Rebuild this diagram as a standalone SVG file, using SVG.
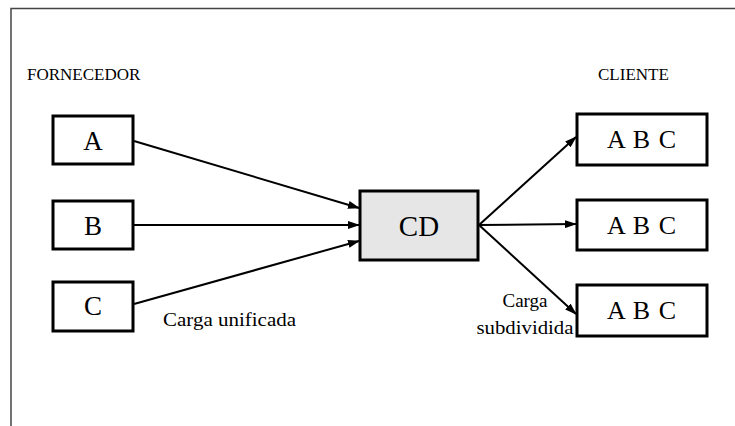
<svg xmlns="http://www.w3.org/2000/svg" width="735" height="426" viewBox="0 0 735 426">
  <defs>
    <marker id="arrow" markerWidth="12" markerHeight="8" refX="11" refY="4" orient="auto" markerUnits="userSpaceOnUse">
      <path d="M0,0 L12,4 L0,8 Z" fill="#000"/>
    </marker>
  </defs>
  <style>
    .frame { fill: none; stroke: #444; stroke-width: 1.5; }
    .box { fill: #fff; stroke: #000; stroke-width: 3; }
    .hub { fill: #e6e6e6; stroke: #000; stroke-width: 3; }
    .edge { stroke: #000; stroke-width: 2; fill: none; marker-end: url(#arrow); }
    text { font-family: "Liberation Serif", "Times New Roman", serif; fill: #000; }
    .head { font-size: 17px; }
    .letter { font-size: 27px; text-anchor: middle; }
    .abc { font-size: 26px; text-anchor: middle; letter-spacing: 1px; }
    .note { font-size: 19px; }
  </style>

  <rect width="735" height="426" fill="#fff"/>
  <!-- page frame: top and left rules -->
  <path class="frame" d="M11,426 L11,8.5 L735,8.5"/>

  <text class="head" x="27" y="80">FORNECEDOR</text>
  <text class="head" x="598" y="80">CLIENTE</text>

  <g id="connectors">
    <line class="edge" x1="134" y1="141" x2="359" y2="208"/>
    <line class="edge" x1="134" y1="225" x2="359" y2="225"/>
    <line class="edge" x1="134" y1="304" x2="359" y2="241"/>
    <line class="edge" x1="479" y1="225" x2="576" y2="137"/>
    <line class="edge" x1="479" y1="225" x2="576" y2="224"/>
    <line class="edge" x1="479" y1="225" x2="576" y2="314"/>
  </g>

  <g id="supplier-a">
    <rect class="box" x="53" y="116" width="80" height="48"/>
    <text class="letter" x="93" y="150">A</text>
  </g>
  <g id="supplier-b">
    <rect class="box" x="53" y="201" width="80" height="48"/>
    <text class="letter" x="93" y="235">B</text>
  </g>
  <g id="supplier-c">
    <rect class="box" x="53" y="282" width="80" height="49"/>
    <text class="letter" x="93" y="315">C</text>
  </g>

  <g id="cd">
    <rect class="hub" x="360" y="191" width="118" height="69"/>
    <text x="419" y="236" font-size="29" text-anchor="middle">CD</text>
  </g>

  <g id="client-1">
    <rect class="box" x="577" y="114" width="130" height="51"/>
    <text class="abc" x="642" y="148">A B C</text>
  </g>
  <g id="client-2">
    <rect class="box" x="577" y="200" width="130" height="50"/>
    <text class="abc" x="642" y="234">A B C</text>
  </g>
  <g id="client-3">
    <rect class="box" x="577" y="285" width="130" height="51"/>
    <text class="abc" x="642" y="319">A B C</text>
  </g>

  <text class="note" x="163" y="326" textLength="133" lengthAdjust="spacingAndGlyphs">Carga unificada</text>
  <text class="note" x="525" y="307" text-anchor="middle">Carga</text>
  <text class="note" x="525" y="334" text-anchor="middle" textLength="97" lengthAdjust="spacingAndGlyphs">subdividida</text>
</svg>
